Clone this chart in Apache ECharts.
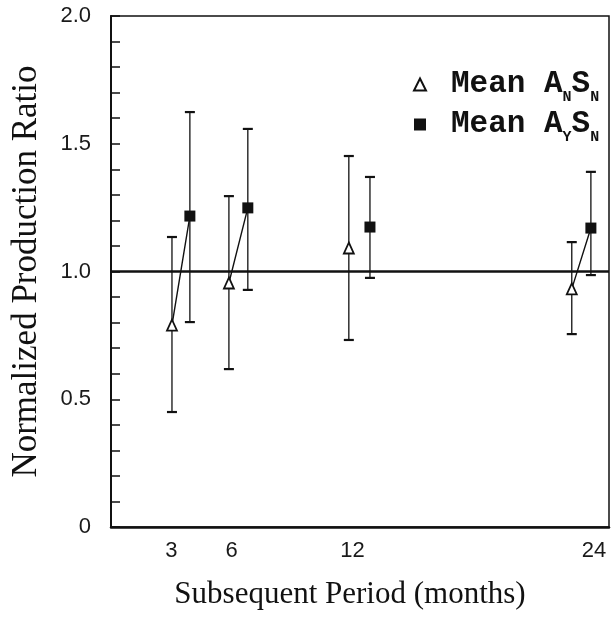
<!DOCTYPE html>
<html>
<head>
<meta charset="utf-8">
<script src="https://cdn.jsdelivr.net/npm/echarts@6/dist/echarts.min.js"></script>
<style>
  html, body { margin: 0; padding: 0; background: #fff; }
  #chart { width: 612px; height: 624px; }
</style>
</head>
<body>
<div id="chart"></div>
<script>
// subsequent period ticks (months)
var periods = [3, 6, 12, 24];
// Mean A_N S_N (triangles): x position, mean, low, high
var triX = [3.03, 5.86, 11.82, 22.9];
var triMean = [0.79, 0.955, 1.092, 0.932];
var triLow = [0.45, 0.618, 0.732, 0.755];
var triHigh = [1.135, 1.295, 1.452, 1.115];
// Mean A_Y S_N (squares)
var sqX = [3.92, 6.8, 12.87, 23.85];
var sqMean = [1.217, 1.249, 1.174, 1.17];
var sqLow = [0.802, 0.928, 0.975, 0.986];
var sqHigh = [1.624, 1.558, 1.37, 1.39];
// which pairs are joined by a line
var joined = [true, true, false, true];
var yTicks = [0, 0.5, 1.0, 1.5, 2.0];

var serif = '"Liberation Serif", "Times New Roman", serif';
var sans = '"Liberation Sans", Arial, sans-serif';
var mono = '"Liberation Mono", "Courier New", monospace';

function errData(xs, lo, hi) {
    var out = [];
    for (var i = 0; i < xs.length; i++) out.push([xs[i], lo[i], hi[i]]);
    return out;
}
function ptData(xs, ys) {
    var out = [];
    for (var i = 0; i < xs.length; i++) out.push([xs[i], ys[i]]);
    return out;
}
// connecting segments triangle -> square
var linkData = [];
for (var i = 0; i < periods.length; i++) {
    if (!joined[i]) continue;
    linkData.push([triX[i], triMean[i]]);
    linkData.push([sqX[i], sqMean[i]]);
    linkData.push(['-', '-']);
}

function renderErr(params, api) {
    var x = api.value(0);
    var lo = api.coord([x, api.value(1)]);
    var hi = api.coord([x, api.value(2)]);
    var w = 5;
    var st = { stroke: '#111', lineWidth: 1.3 };
    var cap = { stroke: '#111', lineWidth: 2.2 };
    return {
        type: 'group',
        children: [
            { type: 'line', shape: { x1: lo[0], y1: lo[1], x2: hi[0], y2: hi[1] }, style: st },
            { type: 'line', shape: { x1: lo[0] - w, y1: lo[1], x2: lo[0] + w, y2: lo[1] }, style: cap },
            { type: 'line', shape: { x1: hi[0] - w, y1: hi[1], x2: hi[0] + w, y2: hi[1] }, style: cap }
        ]
    };
}

var labelRich = {
    t: { fontFamily: mono, fontSize: 31, fontWeight: 'bold', color: '#111' },
    s: { fontFamily: mono, fontSize: 15, fontWeight: 'bold', color: '#111', verticalAlign: 'bottom', padding: [0, 0, -5, 0] }
};

var option = {
    animation: false,
    grid: {
        left: 111, right: 3, top: 16, bottom: 97,
        show: true, borderColor: '#111', borderWidth: 1.5
    },
    legend: {
        orient: 'vertical',
        left: 408, top: 64,
        itemGap: 4,
        itemWidth: 12, itemHeight: 12,
        data: ['Mean ANSN', 'Mean AYSN'],
        formatter: function (name) {
            var sub = name === 'Mean ANSN' ? 'N' : 'Y';
            return '{t|Mean A}{s|' + sub + '}{t|S}{s|N}';
        },
        textStyle: { padding: [0, 0, 0, 20], rich: labelRich }
    },
    xAxis: {
        type: 'value',
        min: 0, max: 24.75, interval: 3,
        name: 'Subsequent Period (months)',
        nameLocation: 'middle',
        nameGap: 52,
        nameTextStyle: { fontFamily: serif, fontSize: 31, color: '#111', padding: [0, 20, 0, 0] },
        axisLine: { show: true, lineStyle: { color: '#111', width: 2.5 } },
        axisTick: { show: false },
        splitLine: { show: false },
        axisLabel: {
            margin: 13, fontFamily: sans, fontSize: 22, color: '#1a1a1a',
            formatter: function (v) { return periods.indexOf(v) >= 0 ? String(v) : ''; }
        }
    },
    yAxis: {
        type: 'value',
        min: 0, max: 2, interval: 0.5,
        name: 'Normalized Production Ratio',
        nameLocation: 'middle',
        nameGap: 67,
        nameTextStyle: { fontFamily: serif, fontSize: 35, color: '#111' },
        axisLine: { show: true, lineStyle: { color: '#111', width: 2 } },
        axisTick: { show: true, inside: true, length: 9, lineStyle: { color: '#111', width: 1.5 } },
        minorTick: { show: true, splitNumber: 5, length: 9, lineStyle: { color: '#111', width: 1.5 } },
        splitLine: { show: false },
        axisLabel: {
            margin: 20, fontFamily: sans, fontSize: 22, color: '#1a1a1a',
            formatter: function (v) {
                return yTicks.indexOf(v) >= 0 ? (v === 0 ? '0' : v.toFixed(1)) : '';
            }
        }
    },
    series: [
        {
            type: 'line',
            data: linkData,
            symbol: 'none',
            connectNulls: false,
            lineStyle: { color: '#111', width: 1.4 },
            markLine: {
                silent: true,
                symbol: 'none',
                label: { show: false },
                lineStyle: { color: '#111', width: 2.5, type: 'solid' },
                data: [{ yAxis: 1.0 }]
            },
            z: 2
        },
        {
            type: 'custom',
            renderItem: renderErr,
            data: errData(triX, triLow, triHigh),
            z: 3
        },
        {
            type: 'custom',
            renderItem: renderErr,
            data: errData(sqX, sqLow, sqHigh),
            z: 3
        },
        {
            name: 'Mean ANSN',
            type: 'scatter',
            symbol: 'triangle',
            symbolSize: [10, 11],
            data: ptData(triX, triMean),
            itemStyle: { color: '#fff', borderColor: '#111', borderWidth: 1.8, opacity: 1 },
            z: 5
        },
        {
            name: 'Mean AYSN',
            type: 'scatter',
            symbol: 'rect',
            symbolSize: 11,
            data: ptData(sqX, sqMean),
            itemStyle: { color: '#111', opacity: 1 },
            z: 5
        }
    ]
};

var chart = echarts.init(document.getElementById('chart'));
chart.setOption(option);
</script>
</body>
</html>
